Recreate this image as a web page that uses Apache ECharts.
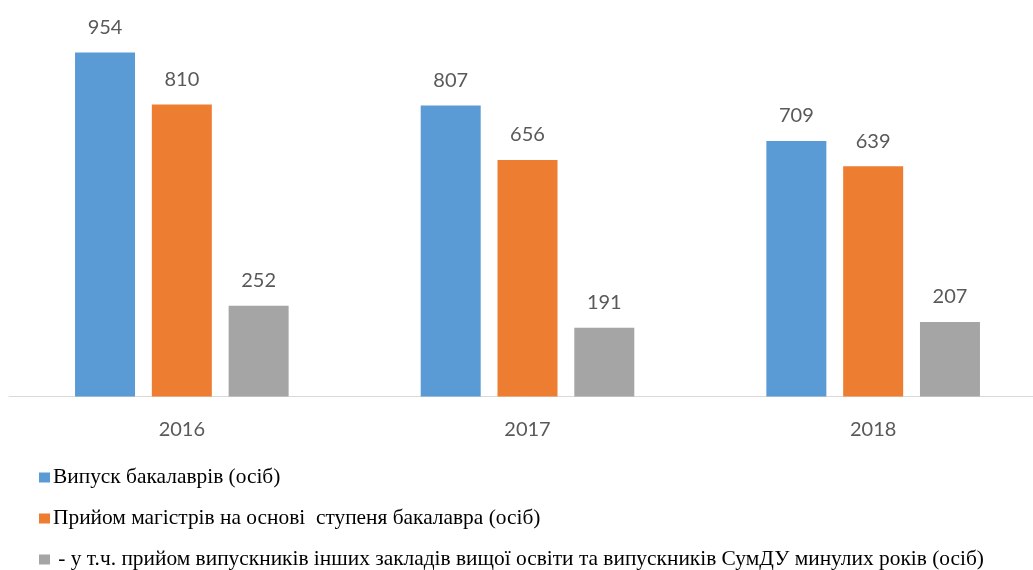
<!DOCTYPE html>
<html>
<head>
<meta charset="utf-8">
<script src="https://cdn.jsdelivr.net/npm/echarts@6/dist/echarts.min.js"></script>
<style>
  html, body { margin: 0; padding: 0; background: #fff; }
  #chart { width: 1033px; height: 570px; }
</style>
</head>
<body>
<div id="chart"></div>
<script>
// роки
var years = ["2016", "2017", "2018"];
// назви рядів
var seriesNames = [
  "Випуск бакалаврів (осіб)",
  "Прийом магістрів на основі  ступеня бакалавра (осіб)",
  " - у т.ч. прийом випускників інших закладів вищої освіти та випускників СумДУ минулих років (осіб)"
];
var bachelors = [954, 807, 709];
var masters = [810, 656, 639];
var others = [252, 191, 207];

var colors = ["#5B9BD5", "#ED7D31", "#A5A5A5"];
var legendTops = [467, 508, 549];

var chart = echarts.init(document.getElementById("chart"));

function makeSeries(name, data, color) {
  return {
    name: name,
    type: "bar",
    data: data,
    barWidth: 60,
    barGap: "28%",
    itemStyle: { color: color },
    label: {
      show: true,
      position: "top",
      distance: 15,
      color: "#595959",
      fontFamily: "Lato",
      fontSize: 20
    }
  };
}

// окрема легенда для кожного рядка
var legends = seriesNames.map(function (name, i) {
  return {
    orient: "vertical",
    left: 39,
    top: legendTops[i],
    padding: 0,
    itemWidth: 11,
    itemHeight: 10,
    icon: "rect",
    textStyle: {
      fontFamily: "Liberation Serif",
      fontSize: 21.4,
      lineHeight: 20,
      color: "#000",
      padding: [0, 0, 0, -2]
    },
    data: [name]
  };
});

var option = {
  animation: false,
  color: colors,
  grid: {
    left: 9,
    width: 1037,
    top: 36,
    bottom: 173.5,
    outerBoundsMode: "none",
    containLabel: false
  },
  legend: legends,
  xAxis: {
    type: "category",
    data: years,
    axisLine: { lineStyle: { color: "#D9D9D9", width: 1 } },
    axisTick: { show: false },
    axisLabel: {
      color: "#595959",
      fontFamily: "Lato",
      fontSize: 20,
      margin: 23
    }
  },
  yAxis: {
    type: "value",
    min: 0,
    max: 1000,
    show: false,
    splitLine: { show: false }
  },
  series: [
    makeSeries(seriesNames[0], bachelors, colors[0]),
    makeSeries(seriesNames[1], masters, colors[1]),
    makeSeries(seriesNames[2], others, colors[2])
  ]
};

chart.setOption(option);
</script>
</body>
</html>
